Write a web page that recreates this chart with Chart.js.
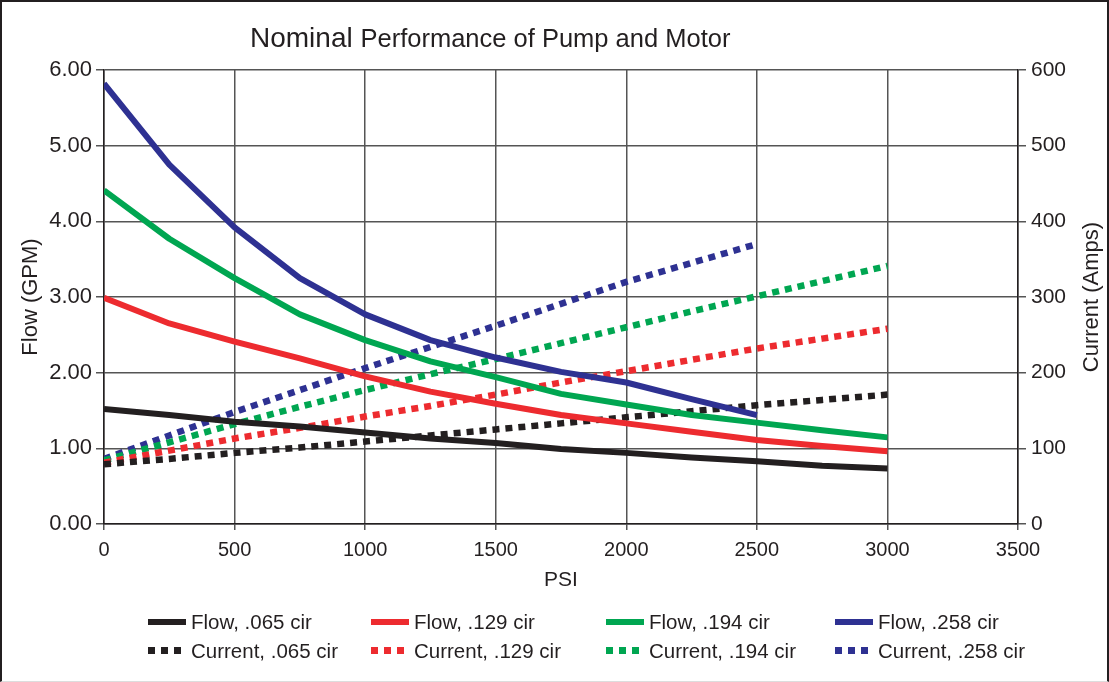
<!DOCTYPE html>
<html>
<head>
<meta charset="utf-8">
<script src="https://cdn.jsdelivr.net/npm/chart.js@4.4.1/dist/chart.umd.min.js"></script>
<style>
  html, body { margin: 0; padding: 0; background: #fff; }
  #wrap { position: relative; width: 1109px; height: 682px; overflow: hidden; }
  #frame { position: absolute; inset: 0; border: 2px solid #231f20; border-bottom: 1px solid #ddd; box-sizing: border-box; pointer-events: none; }
  #legend { position: absolute; left: 148px; top: 607px; display: grid; grid-template-columns: 223px 235px 229px 229px;
            font: 20.5px "Liberation Sans", Arial, sans-serif; color: #231f20; }
  .item { display: flex; align-items: center; height: 29px; white-space: nowrap; }
  .sw { width: 38px; height: 6px; margin-right: 5px; }
</style>
</head>
<body>
<div id="wrap">
  <canvas id="chart" width="1109" height="682"></canvas>
  <div id="legend"></div>
  <div id="frame"></div>
</div>
<script>
// pressure steps (PSI)
const PSI = [0, 250, 500, 750, 1000, 1250, 1500, 1750, 2000, 2250, 2500, 2750, 3000];

// flow (GPM), left axis
const flow065 = [1.52, 1.44, 1.35, 1.29, 1.21, 1.13, 1.07, 0.99, 0.94, 0.88, 0.83, 0.77, 0.735];
const flow129 = [2.99, 2.65, 2.41, 2.19, 1.95, 1.75, 1.59, 1.44, 1.33, 1.22, 1.11, 1.03, 0.96];
const flow194 = [4.41, 3.77, 3.25, 2.77, 2.43, 2.15, 1.94, 1.72, 1.58, 1.44, 1.34, 1.24, 1.145];
const flow258 = [5.82, 4.75, 3.92, 3.25, 2.77, 2.43, 2.20, 2.01, 1.87, 1.65, 1.44];

// current (Amps), right axis
const amps065 = [79, 86, 94, 101, 109, 117, 125, 133, 141, 149, 157, 164, 171];
const amps129 = [81, 97, 113, 127, 142, 156, 171, 187, 202, 217, 232, 245, 258];
const amps194 = [84, 108, 132, 155, 177, 198, 218, 239, 260, 281, 301, 321, 341];
const amps258 = [86, 117, 148, 177, 206, 234, 262, 291, 320, 345, 370];

const flowTicks = [0, 1, 2, 3, 4, 5, 6];
const psiTicks = [0, 500, 1000, 1500, 2000, 2500, 3000, 3500];

const BLACK = '#231f20', RED = '#ed2b2f', GREEN = '#00a651', BLUE = '#2e3192';
const FONT = '"Liberation Sans", Arial, sans-serif';

const pts = vals => vals.map((v, i) => ({ x: PSI[i], y: v }));

function flowSet(label, vals, color) {
  return { label, data: pts(vals), borderColor: color, backgroundColor: color,
           borderWidth: 6, yAxisID: 'yFlow' };
}
function ampSet(label, vals, color) {
  return { label, data: pts(vals), borderColor: color, backgroundColor: color,
           borderWidth: 6.5, borderDash: [7, 6], yAxisID: 'yAmps' };
}

// title with two font sizes, and the right axis title reading bottom-to-top
const textPlugin = {
  id: 'extraText',
  afterDraw(chart) {
    const ctx = chart.ctx;
    ctx.save();
    ctx.fillStyle = BLACK;
    ctx.textBaseline = 'alphabetic';
    ctx.font = '28px ' + FONT;
    const first = 'Nominal ';
    ctx.fillText(first, 250, 47);
    const w = ctx.measureText(first).width;
    ctx.font = '25.5px ' + FONT;
    ctx.fillText('Performance of Pump and Motor', 250 + w, 47);

    const area = chart.chartArea;
    ctx.translate(1092, (area.top + area.bottom) / 2);
    ctx.rotate(-Math.PI / 2);
    ctx.font = '22px ' + FONT;
    ctx.textAlign = 'center';
    ctx.textBaseline = 'middle';
    ctx.fillText('Current (Amps)', 0, 0);
    ctx.restore();
  }
};

Chart.defaults.font.family = FONT;
Chart.defaults.color = BLACK;

const gridStyle = { color: '#555555', lineWidth: 1.5, tickLength: 8 };
const borderStyle = { color: BLACK, width: 1.5 };

const chart = new Chart(document.getElementById('chart'), {
  type: 'line',
  data: {
    datasets: [
      flowSet('Flow, .065 cir', flow065, BLACK),
      flowSet('Flow, .129 cir', flow129, RED),
      flowSet('Flow, .194 cir', flow194, GREEN),
      flowSet('Flow, .258 cir', flow258, BLUE),
      ampSet('Current, .065 cir', amps065, BLACK),
      ampSet('Current, .129 cir', amps129, RED),
      ampSet('Current, .194 cir', amps194, GREEN),
      ampSet('Current, .258 cir', amps258, BLUE),
    ],
  },
  options: {
    responsive: false,
    animation: false,
    layout: { padding: { top: 70, left: 0, right: 0, bottom: 0 } },
    elements: {
      point: { radius: 0, hoverRadius: 0 },
      line: { tension: 0, borderCapStyle: 'butt', borderJoinStyle: 'round', fill: false },
    },
    plugins: { legend: { display: false }, title: { display: false }, tooltip: { enabled: false } },
    scales: {
      x: {
        type: 'linear', min: 0, max: 3500,
        afterBuildTicks: s => { s.ticks = psiTicks.map(v => ({ value: v })); },
        afterFit: s => { s.height = 158; },
        ticks: { callback: v => String(v), font: { size: 20 }, padding: 8, maxRotation: 0 },
        grid: { ...gridStyle, tickLength: 6 },
        border: borderStyle,
        title: { display: true, text: 'PSI', font: { size: 21 }, padding: { bottom: 89 } },
      },
      yFlow: {
        position: 'left', min: 0, max: 6,
        afterBuildTicks: s => { s.ticks = flowTicks.map(v => ({ value: v })); },
        afterFit: s => { s.width = 104; },
        ticks: { callback: v => v.toFixed(2), font: { size: 22 }, padding: 4 },
        grid: gridStyle,
        border: borderStyle,
        title: { display: true, text: 'Flow (GPM)', font: { size: 22 }, padding: { top: 18 } },
      },
      yAmps: {
        position: 'right', min: 0, max: 600,
        ticks: { stepSize: 100, font: { size: 21 }, padding: 5 },
        afterFit: s => { s.width = 91; },
        grid: { ...gridStyle, drawOnChartArea: false },
        border: borderStyle,
        title: { display: false },
      },
    },
  },
  plugins: [textPlugin],
});

// legend drawn in HTML from the datasets, 4 columns x 2 rows
const legend = document.getElementById('legend');
chart.data.datasets.forEach(ds => {
  const item = document.createElement('div');
  item.className = 'item';
  const sw = document.createElement('span');
  sw.className = 'sw';
  if (ds.borderDash) {
    sw.style.height = '7px';
    sw.style.background = `repeating-linear-gradient(to right, ${ds.borderColor} 0 7px, transparent 7px 13px)`;
  } else {
    sw.style.background = ds.borderColor;
  }
  item.appendChild(sw);
  item.appendChild(document.createTextNode(ds.label));
  legend.appendChild(item);
});
</script>
</body>
</html>
